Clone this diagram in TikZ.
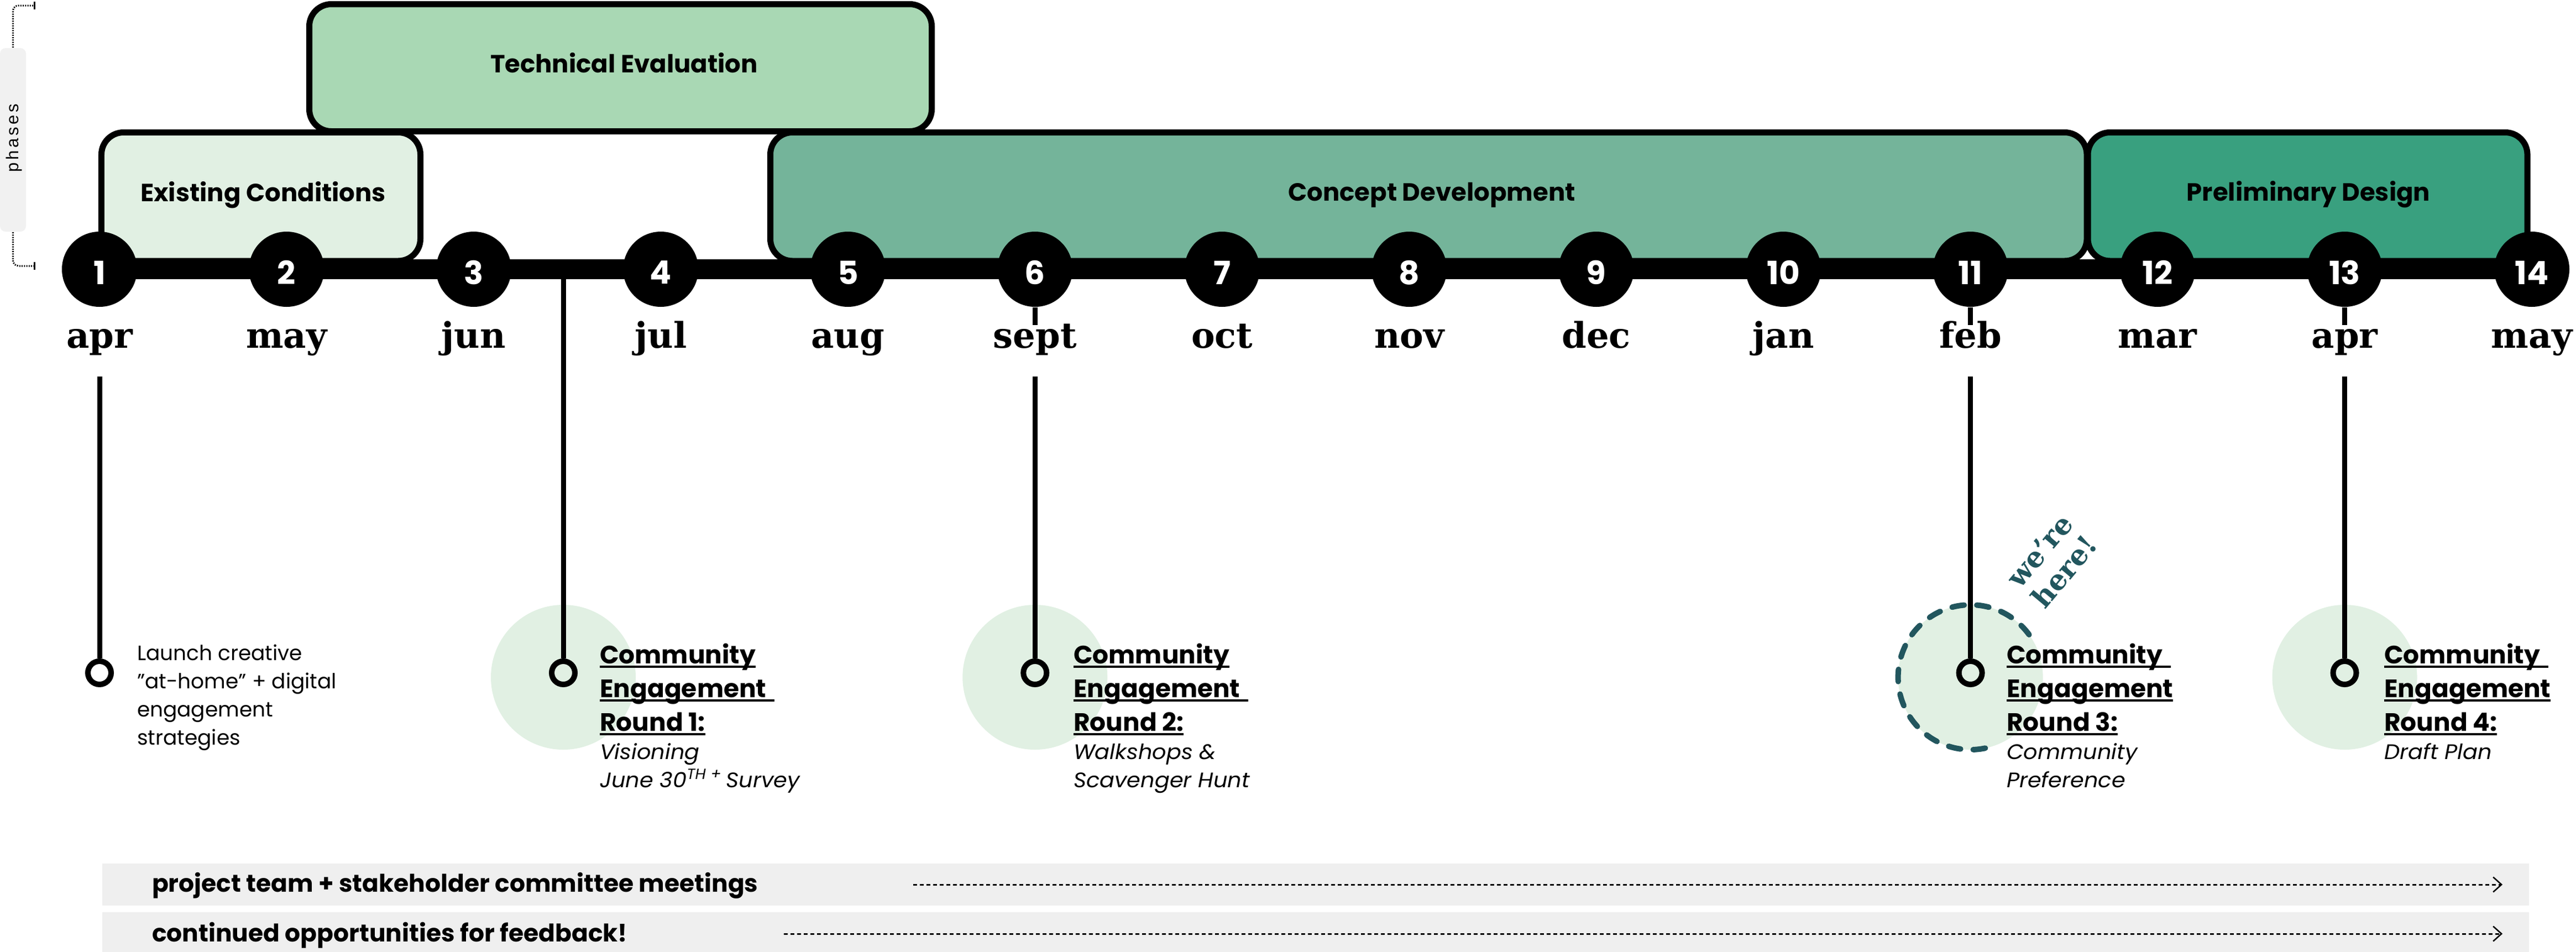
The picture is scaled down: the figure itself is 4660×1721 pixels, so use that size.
\documentclass[tikz,border=0pt]{standalone}
\usepackage{fontspec}
\setmainfont{Poppins}
\newfontfamily\itfont{Poppins}[FakeStretch=1.05]
\newfontfamily\monthfont{DejaVu Serif}
\newfontfamily\sidefont{Liberation Sans}[LetterSpace=15]
\usetikzlibrary{arrows.meta}
\definecolor{ecfill}{HTML}{E1F0E3}
\definecolor{tefill}{HTML}{A9D8B4}
\definecolor{cdfill}{HTML}{74B49A}
\definecolor{pdfill}{HTML}{39A07F}
\definecolor{heretal}{HTML}{22565E}
\definecolor{bargrey}{HTML}{EFEFEF}
\definecolor{phgrey}{HTML}{F1F1F1}
\newsavebox\ulbox
\newcommand\ulin[2][0pt]{\sbox\ulbox{#2}\rlap{\rule[-1.6pt]{\dimexpr\wd\ulbox+#1\relax}{0.8pt}}\usebox\ulbox}
\newcommand\engtext[5]{\vtop{\fontsize{9.1}{12.2}\selectfont\bfseries
\hbox{\ulin[#1]{Community}}\hbox{\ulin[#2]{Engagement}}\hbox{\ulin{#3}}%
\itfont\fontsize{7.6}{10.2}\selectfont\mdseries\itshape\hbox{#4}\hbox{#5}}}
\begin{document}
\begin{tikzpicture}[x=0.2pt,y=-0.2pt,
  phasebox/.style={draw=black, line width=2.2pt, rounded corners=8pt, inner sep=0pt, minimum height=46.5pt},
  phaselabel/.style={font=\fontsize{9}{11}\selectfont\bfseries, inner sep=0pt, anchor=base},
  dotnode/.style={circle, fill=black, minimum size=27.2pt, inner sep=0pt},
  numtext/.style={text=white, font=\fontsize{11.6}{13}\selectfont\bfseries, inner sep=0pt},
  month/.style={font=\monthfont\bfseries\fontsize{12.8}{13}\selectfont, anchor=base, inner sep=0pt},
  ring/.style={circle, draw=black, line width=2pt, minimum size=8.4pt, inner sep=0pt},
  stem/.style={line width=1.8pt},
  halo/.style={fill=ecfill},
  engnode/.style={anchor=base west, inner sep=0pt},
  bar/.style={fill=bargrey, inner sep=0pt, minimum width=878pt, minimum height=15.2pt},
  bartext/.style={font=\fontsize{8.8}{10}\selectfont\bfseries, anchor=base west, inner sep=0pt},
  dashline/.style={line width=0.6pt, dash pattern=on 1.4pt off 1pt, -{Straight Barb[length=3pt,width=5.4pt,line width=0.5pt]}},
  dotline/.style={line width=0.6pt, dash pattern=on 0.4pt off 0.45pt, rounded corners=2pt}]
\useasboundingbox (0,0) rectangle (4660,1721);

% side bracket "phases"
\node[fill=phgrey, rounded corners=2pt, minimum width=9.4pt, minimum height=66.4pt, inner sep=0pt] (phbar) at (23.5,253) {};
\node[rotate=90, font=\sidefont\fontsize{6.2}{7}\selectfont, inner sep=0pt] (phtext) at (25,250) {phases};
\coordinate (brt) at (62,10);
\coordinate (brb) at (62,481);
\draw[dotline] (phbar.north) -- (phbar.north |- brt) -- (brt);
\draw[dotline] (phbar.south) -- (phbar.south |- brb) -- (brb);
\draw[line width=0.6pt] ([yshift=1.4pt]brt) -- ([yshift=-1.4pt]brt);
\draw[line width=0.6pt] ([yshift=1.4pt]brb) -- ([yshift=-1.4pt]brb);

% phase boxes
\node[phasebox, fill=ecfill, minimum width=115.4pt] (ecbox) at (472,355.75) {};
\node[phasebox, fill=cdfill, minimum width=476.3pt] (cdbox) at (2584.25,355.75) {};
\node[phasebox, fill=pdfill, minimum width=159pt] (pdbox) at (4174.5,355.75) {};
\node[phasebox, fill=tefill, minimum width=225.2pt, minimum height=46pt] (tebox) at (1122.5,122.5) {};
\node[phaselabel] (ectext) at (476,364) {Existing Conditions};
\node[phaselabel] (tetext) at (1129,131) {Technical Evaluation};
\node[phaselabel] (cdtext) at (2590,363) {Concept Development};
\node[phaselabel] (pdtext) at (4176,363) {Preliminary Design};

% timeline
\foreach \i in {1,...,14} \coordinate (p\i) at ({180+(\i-1)*338.46},487);
\draw[line width=7.2pt] (p1) -- (p14);
\foreach \i/\m in {1/apr,2/may,3/jun,4/jul,5/aug,6/sept,7/oct,8/nov,9/dec,10/jan,11/feb,12/mar,13/apr,14/may}{
  \node[dotnode] (c\i) at (p\i) {};
  \node[numtext] (n\i) at ([yshift=-1.2pt]p\i) {\i};
  \node[month] (m\i) at ({180+(\i-1)*338.46},629) {\m};
}

% ticks under circles
\foreach \i in {6,11,13}{
  \coordinate (t\i) at ({180+(\i-1)*338.46},588);
  \draw[stem] (c\i.south) -- (t\i);
}

% engagement halos
\fill[halo] (1019,1225) circle (131);
\fill[halo] (1872.3,1225) circle (131);
\fill[halo] (3564.6,1225) circle (131);
\fill[halo] (4241.5,1225) circle (131);
\draw[heretal, line width=2pt, line cap=round, dash pattern=on 4.4pt off 4.6pt]
  (3564.6,1225) ++(36:26.2pt) arc[start angle=36, end angle=290, radius=26.2pt];

% stems and rings
\node[ring] (r1) at (180,1217) {};
\node[ring] (r2) at (1019,1217) {};
\node[ring] (r3) at (1872.3,1217) {};
\node[ring] (r4) at (3564.6,1217) {};
\node[ring] (r5) at (4241.5,1217) {};
\coordinate (s1) at (180,681);
\coordinate (s2) at (1019,487);
\coordinate (s3) at (1872.3,681);
\coordinate (s4) at (3564.6,681);
\coordinate (s5) at (4241.5,681);
\foreach \k in {1,...,5} \draw[stem] (s\k) -- (r\k.north);

% texts
\node[engnode] (l1) at (247,1194) {\vtop{\fontsize{7.5}{10.2}\selectfont
  \hbox{Launch creative}\hbox{"at-home" + digital}\hbox{engagement}\hbox{strategies}}};
\node[engnode] (e1) at (1084,1200) {\engtext{0pt}{3pt}{Round 1:}{Visioning}{June 30\textsuperscript{TH}\,\textsuperscript{+}\,Survey}};
\node[engnode] (e2) at (1941,1200) {\engtext{0pt}{3pt}{Round 2:}{Walkshops \&}{Scavenger Hunt}};
\node[engnode] (e3) at (3629,1200) {\engtext{3pt}{0pt}{Round 3:}{Community}{Preference}};
\node[engnode] (e4) at (4312,1200) {\engtext{3pt}{0pt}{Round 4:}{Draft Plan}{}};
\node[rotate=50, text=heretal, font=\monthfont\bfseries\fontsize{10.2}{11.6}\selectfont, align=center, inner sep=0pt] (here) at (3712,1015) {we’re\\here!};

% bottom bars
\node[bar] (bar1) at (2380,1600) {};
\node[bar] (bar2) at (2380,1688) {};
\node[bartext] (b1text) at (274,1613) {project team + stakeholder committee meetings};
\node[bartext] (b2text) at (274,1703) {continued opportunities for feedback!};
\coordinate (a1s) at (1652,1600);
\coordinate (a1e) at (4527,1600);
\coordinate (a2s) at (1418,1689);
\coordinate (a2e) at (4527,1689);
\draw[dashline] (a1s) -- (a1e);
\draw[dashline] (a2s) -- (a2e);
\end{tikzpicture}
\end{document}
